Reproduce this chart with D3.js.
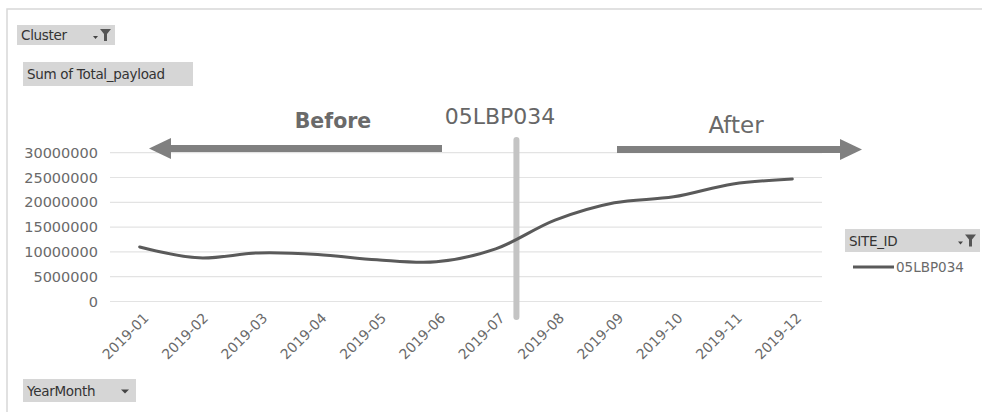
<!DOCTYPE html>
<html><head><meta charset="utf-8">
<script src="https://cdn.jsdelivr.net/npm/d3@7"></script>
<style>body{margin:0;background:#fff}svg{display:block}text{font-family:"DejaVu Sans",sans-serif}</style>
</head><body><svg id="c" width="982" height="412"></svg>
<script>
const months=["2019-01","2019-02","2019-03","2019-04","2019-05","2019-06","2019-07","2019-08","2019-09","2019-10","2019-11","2019-12"];
const payload=[11000000,8800000,9800000,9500000,8400000,8000000,10600000,16400000,19900000,21100000,23700000,24700000];
const yTicks=[0,5000000,10000000,15000000,20000000,25000000,30000000];
const siteId="05LBP034";

const svg=d3.select("#c");
// frame
svg.append("path").attr("d","M7,412V9H982").attr("fill","none").attr("stroke","#d8d8d8").attr("stroke-width",1.5);

const x=d3.scaleBand().domain(months).range([110,822]);
const y=d3.scaleLinear().domain([0,30000000]).range([301.5,152.7]);

// gridlines
svg.append("g").selectAll("line").data(yTicks).join("line")
 .attr("x1",110).attr("x2",822).attr("y1",d=>y(d)).attr("y2",d=>y(d))
 .attr("stroke","#e3e3e3").attr("stroke-width",1.2);

// y axis labels
const ya=svg.append("g").attr("transform","translate(103,0)").call(d3.axisLeft(y).tickValues(yTicks).tickSize(0).tickPadding(5).tickFormat(d3.format("d")));
ya.select(".domain").remove();
ya.selectAll("text").attr("font-size",14.5).attr("fill","#6a6a6a").attr("font-family","DejaVu Sans");

// x axis labels
const xa=svg.append("g").attr("transform","translate(0,306)").call(d3.axisBottom(x).tickSize(0).tickPadding(0));
xa.select(".domain").remove();
xa.selectAll("text").attr("font-size",14).attr("fill","#6a6a6a").attr("font-family","DejaVu Sans")
 .attr("text-anchor","end").attr("dy",0).attr("transform","translate(10,13) rotate(-45)");

// vertical marker between 07 and 08
const vx=x("2019-07")+x.bandwidth()*0.85;
svg.append("rect").attr("x",vx-3).attr("y",137).attr("width",6).attr("height",183).attr("rx",3).attr("fill","#c4c4c4");

// line
const line=d3.line().x((d,i)=>x(months[i])+x.bandwidth()/2).y(d=>y(d)).curve(d3.curveCatmullRom.alpha(0.5));
svg.append("path").datum(payload).attr("d",line).attr("fill","none").attr("stroke","#5a5a5a").attr("stroke-width",3).attr("stroke-linecap","round");

// title & arrows
svg.append("text").attr("x",500).attr("y",124).attr("text-anchor","middle").attr("font-size",22).attr("fill","#666").attr("font-family","Open Sans").text(siteId);
svg.append("text").attr("x",333).attr("y",128).attr("text-anchor","middle").attr("font-size",20.5).attr("font-weight",600).attr("fill","#6a6a6a").attr("font-family","Open Sans").text("Before");
svg.append("text").attr("x",736).attr("y",133).attr("text-anchor","middle").attr("font-size",23).attr("fill","#6a6a6a").attr("font-family","Liberation Sans").text("After");
const ac="#808080";
svg.append("rect").attr("x",168).attr("y",145).attr("width",274).attr("height",7).attr("fill",ac);
svg.append("path").attr("d","M149,148.5L171,138V159Z").attr("fill",ac);
svg.append("rect").attr("x",617).attr("y",146).attr("width",225).attr("height",7).attr("fill",ac);
svg.append("path").attr("d","M862,149.5L840,139V160Z").attr("fill",ac);

// field buttons
function button(x0,y0,w,h,label,icon){
 const g=svg.append("g");
 g.append("rect").attr("x",x0).attr("y",y0).attr("width",w).attr("height",h).attr("fill","#d6d6d6");
 g.append("text").attr("x",x0+4).attr("y",y0+h/2+5).attr("font-size",13.5).attr("fill","#333").attr("font-family","DejaVu Sans").attr("letter-spacing",-0.3).text(label);
 if(icon==="filter"){
  const ix=x0+w-15,iy=y0+h/2;
  g.append("path").attr("d",`M${ix-7},${iy+1}h5l-2.5,3z`).attr("fill","#444");
  g.append("path").attr("d",`M${ix},${iy-6}h11l-4,5v7h-3v-7z`).attr("fill","#555");
 } else if(icon==="drop"){
  const ix=x0+w-11,iy=y0+h/2;
  g.append("path").attr("d",`M${ix-4},${iy-1}h8l-4,4z`).attr("fill","#444");
 }
}
button(17,25,98,20,"Cluster","filter");
button(23,62,170,24,"Sum of Total_payload",null);
button(23,379,113,23,"YearMonth","drop");
button(845,229,135,23,"SITE_ID","filter");

// legend
svg.append("line").attr("x1",853).attr("x2",894).attr("y1",267).attr("y2",267).attr("stroke","#5a5a5a").attr("stroke-width",3);
svg.append("text").attr("x",896).attr("y",272).attr("font-size",13.5).attr("fill","#6a6a6a").attr("font-family","DejaVu Sans").text(siteId);
</script></body></html>
